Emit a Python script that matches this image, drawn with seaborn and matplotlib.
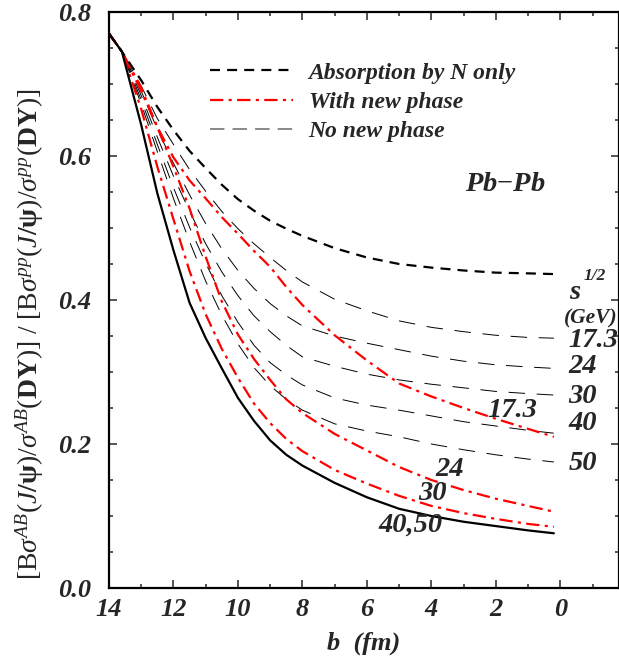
import numpy as np
import matplotlib
matplotlib.use("Agg")
import matplotlib.pyplot as plt
import seaborn as sns
from matplotlib.lines import Line2D
from matplotlib.ticker import MultipleLocator, FormatStrFormatter

# impact parameter grid (fm)
b = [14, 13.6, 13, 12.5, 12, 11.5, 11, 10.5, 10, 9.5, 9, 8.5, 8, 7, 6, 5, 4, 3, 2, 1, 0.2]

# absorption by nucleons only
absorption = [0.770, 0.745, 0.705, 0.668, 0.636, 0.607, 0.583, 0.560, 0.540, 0.524, 0.510,
              0.499, 0.489, 0.472, 0.459, 0.450, 0.445, 0.441, 0.438, 0.437, 0.436]

# no new phase, per sqrt(s) in GeV
no_phase_energies = ["17.3", "24", "30", "40", "50"]
no_phase = {
    "17.3": [0.770, 0.745, 0.697, 0.652, 0.616, 0.581, 0.551, 0.523, 0.499, 0.478, 0.459,
             0.441, 0.425, 0.401, 0.385, 0.371, 0.362, 0.356, 0.351, 0.348, 0.347],
    "24": [0.770, 0.745, 0.690, 0.637, 0.590, 0.546, 0.506, 0.471, 0.441, 0.416, 0.395,
           0.378, 0.364, 0.350, 0.340, 0.331, 0.322, 0.315, 0.310, 0.307, 0.305],
    "30": [0.770, 0.745, 0.684, 0.626, 0.572, 0.523, 0.478, 0.439, 0.406, 0.378, 0.356,
           0.337, 0.321, 0.308, 0.297, 0.289, 0.283, 0.278, 0.273, 0.270, 0.268],
    "40": [0.770, 0.745, 0.678, 0.616, 0.556, 0.501, 0.451, 0.406, 0.369, 0.337, 0.313,
           0.296, 0.282, 0.264, 0.254, 0.247, 0.239, 0.231, 0.225, 0.219, 0.215],
    "50": [0.770, 0.745, 0.672, 0.606, 0.541, 0.481, 0.426, 0.379, 0.339, 0.306, 0.281,
           0.262, 0.247, 0.228, 0.218, 0.210, 0.200, 0.192, 0.185, 0.179, 0.175],
}

# with new phase
new_phase_173 = [0.770, 0.745, 0.695, 0.640, 0.598, 0.566, 0.541, 0.515, 0.492, 0.468, 0.446,
                 0.418, 0.393, 0.351, 0.316, 0.284, 0.266, 0.250, 0.235, 0.221, 0.210]
new_phase_24 = [0.770, 0.745, 0.690, 0.640, 0.585, 0.527, 0.460, 0.398, 0.352, 0.318, 0.289,
                0.262, 0.243, 0.214, 0.191, 0.168, 0.150, 0.136, 0.124, 0.114, 0.106]
new_phase_30 = [0.770, 0.745, 0.665, 0.585, 0.512, 0.440, 0.380, 0.332, 0.292, 0.256, 0.229,
                0.207, 0.190, 0.164, 0.145, 0.128, 0.114, 0.104, 0.096, 0.089, 0.085]
new_phase_4050 = [0.770, 0.745, 0.643, 0.548, 0.469, 0.396, 0.347, 0.305, 0.264, 0.232, 0.205,
                  0.185, 0.170, 0.146, 0.126, 0.110, 0.100, 0.092, 0.086, 0.080, 0.076]

sns.set_theme(style="ticks")
plt.rcParams['font.family'] = ['Liberation Serif', 'DejaVu Serif']
plt.rcParams['mathtext.fontset'] = 'custom'
plt.rcParams['mathtext.rm'] = 'Liberation Serif'
plt.rcParams['mathtext.it'] = 'Liberation Serif:italic'
plt.rcParams['mathtext.bf'] = 'Liberation Serif:bold'

fig = plt.figure(figsize=(6.19, 6.60), dpi=100)
ax = fig.add_axes([109 / 619, 72 / 660, 510 / 619, 576 / 660])

thin = dict(color='black', lw=0.7, linestyle=(0, (17, 12)))
for e in no_phase_energies:
    sns.lineplot(x=b, y=no_phase[e], ax=ax, sort=False, estimator=None, legend=False, **thin)

red = dict(color='#ff0000', lw=1.6, linestyle=(0, (6, 2.4, 1.4, 2.4)))
for ys in [new_phase_173, new_phase_24, new_phase_30]:
    sns.lineplot(x=b, y=ys, ax=ax, sort=False, estimator=None, legend=False, **red)

sns.lineplot(x=b, y=new_phase_4050, ax=ax, sort=False, estimator=None, legend=False,
             color='black', lw=1.6)
sns.lineplot(x=b, y=absorption, ax=ax, sort=False, estimator=None, legend=False,
             color='black', lw=1.6, linestyle=(0, (4.5, 3.2)))

ax.set_xlim(14, -1.82)
ax.set_ylim(0, 0.8)
ax.xaxis.set_major_locator(MultipleLocator(2))
ax.xaxis.set_minor_locator(MultipleLocator(1))
ax.yaxis.set_major_locator(MultipleLocator(0.2))
ax.yaxis.set_minor_locator(MultipleLocator(0.05))
ax.yaxis.set_major_formatter(FormatStrFormatter('%.1f'))
ax.set_xticks([14, 12, 10, 8, 6, 4, 2, 0])
ax.tick_params(which='both', direction='in', top=True, right=True, width=1.1)
ax.tick_params(which='major', length=6)
ax.tick_params(which='minor', length=3.2)
ax.tick_params(axis='x', pad=7)
ax.tick_params(axis='y', pad=13)
for lab in ax.get_xticklabels() + ax.get_yticklabels():
    lab.set_fontsize(19)
    lab.set_fontweight('bold')
    lab.set_fontstyle('italic')
for sp in ax.spines.values():
    sp.set_linewidth(1.6)
    sp.set_color('black')

ax.set_xlabel('b  (fm)', fontsize=19, fontweight='bold', fontstyle='italic', labelpad=8)
ylab = (r'$[\mathrm{B}\sigma^{\mathbf{\mathit{AB}}}(\mathbf{\mathit{J}/\psi})/\sigma^{\mathbf{\mathit{AB}}}'
        r'(\mathbf{DY})]\ /\ [\mathrm{B}\sigma^{\mathbf{\mathit{pp}}}(\mathbf{\mathit{J}/\psi})/'
        r'\sigma^{\mathbf{\mathit{pp}}}(\mathbf{DY})]$')
fig.text(30 / 619, 1 - 334 / 660, ylab, rotation=90, fontsize=20, ha='center', va='center')

handles = [
    Line2D([], [], color='black', lw=1.6, linestyle=(0, (4.5, 3.2))),
    Line2D([], [], color='#ff0000', lw=1.6, linestyle=(0, (6, 2.4, 1.4, 2.4))),
    Line2D([], [], color='#808080', lw=1.3, linestyle=(0, (8, 4.5))),
]
labels = ['Absorption by N only', 'With new phase', 'No new phase']
ax.legend(handles, labels, loc='upper left', bbox_to_anchor=((210 - 109) / 510, 0.913),
          frameon=False, borderpad=0, borderaxespad=0,
          handlelength=3.5, handletextpad=0.68, labelspacing=0.33,
          prop=dict(family='Liberation Serif', size=17, weight='bold', style='italic'))

lab_kw = dict(fontsize=20.5, fontweight='bold', fontstyle='italic', clip_on=False)
ax.text(1.72, 0.56, 'Pb$-$Pb', ha='center', va='center', **lab_kw)

# labels on the new-phase curves
ax.text(1.5, 0.247, '17.3', ha='center', va='center', **lab_kw)
ax.text(3.43, 0.164, '24', ha='center', va='center', **lab_kw)
ax.text(3.97, 0.131, '30', ha='center', va='center', **lab_kw)
ax.text(4.64, 0.0875, '40,50', ha='center', va='center', **lab_kw)

# energy labels at the right
ax.text(-0.26, 0.41, 's', ha='left', va='center', **lab_kw)
ax.text(-0.72, 0.434, '1/2', ha='left', va='center', fontsize=12.5, fontweight='bold',
        fontstyle='italic', clip_on=False)
ax.text(-0.1, 0.375, '(GeV)', ha='left', va='center', fontsize=15.5, fontweight='bold',
        fontstyle='italic', clip_on=False)
for e, yv in zip(no_phase_energies, [0.344, 0.307, 0.266, 0.229, 0.173]):
    ax.text(-0.26, yv, e, ha='left', va='center', **lab_kw)

fig.savefig('out.png', dpi=100)
